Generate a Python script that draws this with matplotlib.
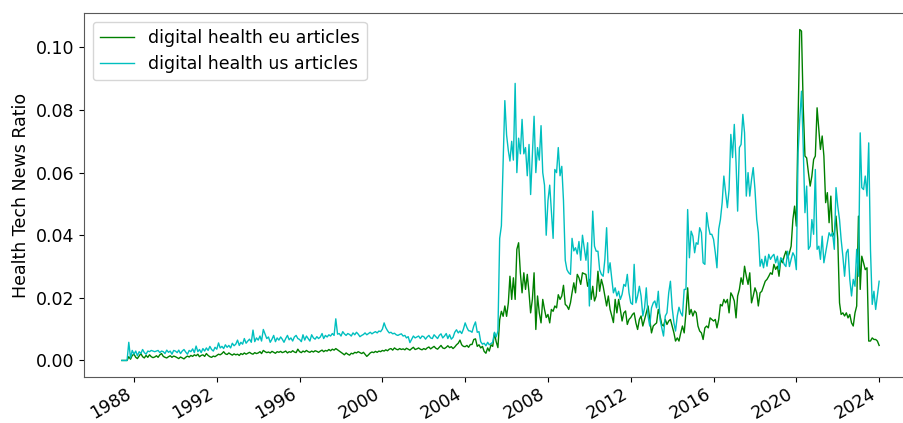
import pandas as pd
import matplotlib
matplotlib.use("Agg")
import matplotlib.pyplot as plt
import matplotlib.dates as mdates

# monthly share of health tech news, first month is June 1987
start_month = "1987-06-01"

eu_articles = [
    0.0, 0.0, 0.0, 0.0, 0.0012, 0.0004, 0.0016,
    0.0020, 0.0010, 0.0006, 0.0014, 0.0022, 0.0012, 0.0008, 0.0016, 0.0010, 0.0018, 0.0012, 0.0009,
    0.0011, 0.0015, 0.0010, 0.0018, 0.0022, 0.0013, 0.0010, 0.0008, 0.0012, 0.0015, 0.0010, 0.0014,
    0.0012, 0.0009, 0.0006, 0.0011, 0.0008, 0.0005, 0.0010, 0.0014, 0.0011, 0.0016, 0.0013, 0.0018,
    0.0015, 0.0020, 0.0012, 0.0016, 0.0018, 0.0013, 0.0022, 0.0016, 0.0012, 0.0010, 0.0014, 0.0012,
    0.0016, 0.0020, 0.0018, 0.0022, 0.0028, 0.0021, 0.0019, 0.0024, 0.0020, 0.0017, 0.0021, 0.0018,
    0.0020, 0.0016, 0.0022, 0.0019, 0.0024, 0.0020, 0.0023, 0.0026, 0.0022, 0.0020, 0.0025, 0.0022,
    0.0024, 0.0028, 0.0022, 0.0032, 0.0028, 0.0025, 0.0027, 0.0024, 0.0029, 0.0026, 0.0023, 0.0028,
    0.0026, 0.0029, 0.0025, 0.0027, 0.0030, 0.0024, 0.0028, 0.0026, 0.0031, 0.0027, 0.0025, 0.0036,
    0.0028, 0.0025, 0.0030, 0.0027, 0.0032, 0.0028, 0.0026, 0.0030, 0.0027, 0.0031, 0.0029, 0.0026,
    0.0030, 0.0033, 0.0028, 0.0032, 0.0030, 0.0035, 0.0031, 0.0036, 0.0033, 0.0038, 0.0034, 0.0030,
    0.0026, 0.0022, 0.0018, 0.0024, 0.0020, 0.0017, 0.0023, 0.0021, 0.0026, 0.0024, 0.0028, 0.0025,
    0.0022, 0.0026, 0.0020, 0.0013, 0.0018, 0.0024, 0.0027, 0.0025, 0.0029, 0.0026, 0.0030, 0.0028,
    0.0032, 0.0030, 0.0034, 0.0031, 0.0036, 0.0038, 0.0033, 0.0040, 0.0036, 0.0034, 0.0038, 0.0035,
    0.0037, 0.0034, 0.0039, 0.0036, 0.0033, 0.0038, 0.0042, 0.0035, 0.0037, 0.0040, 0.0036, 0.0034,
    0.0038, 0.0035, 0.0040, 0.0043, 0.0037, 0.0041, 0.0045, 0.0039, 0.0036, 0.0042, 0.0048, 0.0040,
    0.0038, 0.0042, 0.0047, 0.0041, 0.0044, 0.0038, 0.0043, 0.0050, 0.0055, 0.0065, 0.0050, 0.0045,
    0.0044, 0.0048, 0.0042, 0.0051, 0.0051, 0.0067, 0.0069, 0.0045, 0.0050, 0.0040, 0.0045, 0.0029,
    0.0023, 0.0040, 0.0030, 0.0050, 0.0045, 0.0088, 0.0060, 0.0041, 0.0130, 0.0157, 0.0141, 0.0174,
    0.0141, 0.0184, 0.0269, 0.0195, 0.0264, 0.0195, 0.0355, 0.0376, 0.0280, 0.0216, 0.0280, 0.0227,
    0.0275, 0.0216, 0.0152, 0.0195, 0.0280, 0.0099, 0.0206, 0.0152, 0.0120, 0.0195, 0.0163, 0.0137,
    0.0147, 0.0120, 0.0163, 0.0157, 0.0174, 0.0168, 0.0210, 0.0195, 0.0206, 0.0240, 0.0179, 0.0174,
    0.0163, 0.0184, 0.0216, 0.0248, 0.0216, 0.0275, 0.0264, 0.0243, 0.0280, 0.0277, 0.0275, 0.0237,
    0.0259, 0.0195, 0.0237, 0.0190, 0.0206, 0.0285, 0.0221, 0.0259, 0.0237, 0.0206, 0.0174, 0.0206,
    0.0163, 0.0142, 0.0121, 0.0195, 0.0152, 0.0195, 0.0163, 0.0126, 0.0152, 0.0158, 0.0115, 0.0131,
    0.0137, 0.0147, 0.0152, 0.0120, 0.0099, 0.0131, 0.0142, 0.0110, 0.0131, 0.0152, 0.0174, 0.0131,
    0.0088, 0.0110, 0.0115, 0.0120, 0.0163, 0.0142, 0.0115, 0.0110, 0.0131, 0.0115, 0.0126, 0.0131,
    0.0110, 0.0088, 0.0062, 0.0072, 0.0062, 0.0088, 0.0110, 0.0088, 0.0152, 0.0232, 0.0147, 0.0163,
    0.0142, 0.0158, 0.0152, 0.0110, 0.0094, 0.0088, 0.0067, 0.0104, 0.0110, 0.0104, 0.0136, 0.0131,
    0.0126, 0.0131, 0.0104, 0.0131, 0.0179, 0.0174, 0.0195, 0.0184, 0.0195, 0.0152, 0.0216, 0.0206,
    0.0190, 0.0136, 0.0206, 0.0227, 0.0264, 0.0243, 0.0301, 0.0269, 0.0243, 0.0280, 0.0184, 0.0206,
    0.0232, 0.0216, 0.0174, 0.0216, 0.0221, 0.0237, 0.0253, 0.0259, 0.0269, 0.0280, 0.0275, 0.0307,
    0.0291, 0.0301, 0.0269, 0.0323, 0.0312, 0.0333, 0.0349, 0.0328, 0.0344, 0.0365, 0.0450, 0.0493,
    0.0429, 0.0770, 0.1057, 0.1052, 0.0813, 0.0653, 0.0647, 0.0600, 0.0557, 0.0589, 0.0642, 0.0653,
    0.0807, 0.0738, 0.0674, 0.0717, 0.0653, 0.0504, 0.0536, 0.0440, 0.0525, 0.0397, 0.0408, 0.0461,
    0.0387, 0.0184, 0.0147, 0.0152, 0.0142, 0.0152, 0.0136, 0.0147, 0.0120, 0.0110, 0.0152, 0.0174,
    0.0461, 0.0227, 0.0333, 0.0312, 0.0290, 0.0296, 0.0062, 0.0062, 0.0072, 0.0067, 0.0067, 0.0062,
    0.0048,
]

us_articles = [
    0.0, 0.0, 0.0, 0.0, 0.0058, 0.0008, 0.0032,
    0.0020, 0.0030, 0.0015, 0.0028, 0.0022, 0.0035, 0.0025, 0.0020, 0.0030, 0.0028, 0.0032, 0.0030,
    0.0028, 0.0030, 0.0032, 0.0025, 0.0030, 0.0028, 0.0022, 0.0033, 0.0026, 0.0030, 0.0020, 0.0032,
    0.0030, 0.0025, 0.0033, 0.0022, 0.0030, 0.0035, 0.0027, 0.0020, 0.0032, 0.0028, 0.0037, 0.0025,
    0.0046, 0.0028, 0.0035, 0.0025, 0.0038, 0.0030, 0.0040, 0.0032, 0.0045, 0.0035, 0.0030, 0.0042,
    0.0036, 0.0056, 0.0040, 0.0045, 0.0038, 0.0050, 0.0042, 0.0048, 0.0040, 0.0055, 0.0047, 0.0052,
    0.0065, 0.0048, 0.0058, 0.0052, 0.0070, 0.0055, 0.0062, 0.0068, 0.0058, 0.0097, 0.0060, 0.0072,
    0.0065, 0.0078, 0.0062, 0.0099, 0.0085, 0.0070, 0.0075, 0.0058, 0.0068, 0.0080, 0.0060, 0.0072,
    0.0065, 0.0075, 0.0068, 0.0058, 0.0070, 0.0080, 0.0066, 0.0072, 0.0062, 0.0075, 0.0080, 0.0070,
    0.0067, 0.0060, 0.0082, 0.0065, 0.0078, 0.0070, 0.0062, 0.0082, 0.0072, 0.0068, 0.0076, 0.0070,
    0.0075, 0.0086, 0.0070, 0.0080, 0.0075, 0.0082, 0.0078, 0.0086, 0.0080, 0.0133, 0.0084, 0.0086,
    0.0078, 0.0092, 0.0085, 0.0080, 0.0086, 0.0083, 0.0078, 0.0088, 0.0082, 0.0090, 0.0084, 0.0076,
    0.0080, 0.0083, 0.0088, 0.0082, 0.0086, 0.0090, 0.0085, 0.0089, 0.0092, 0.0088, 0.0094, 0.0092,
    0.0100, 0.0120, 0.0105, 0.0095, 0.0088, 0.0090, 0.0085, 0.0087, 0.0082, 0.0080, 0.0083, 0.0085,
    0.0078, 0.0080, 0.0072, 0.0076, 0.0057, 0.0068, 0.0078, 0.0072, 0.0075, 0.0078, 0.0070, 0.0078,
    0.0076, 0.0068, 0.0075, 0.0080, 0.0072, 0.0070, 0.0082, 0.0076, 0.0070, 0.0080, 0.0085, 0.0072,
    0.0078, 0.0086, 0.0070, 0.0082, 0.0068, 0.0074, 0.0090, 0.0098, 0.0088, 0.0094, 0.0086, 0.0100,
    0.0120, 0.0105, 0.0095, 0.0094, 0.0090, 0.0110, 0.0123, 0.0090, 0.0092, 0.0060, 0.0052, 0.0055,
    0.0047, 0.0058, 0.0050, 0.0054, 0.0058, 0.0090, 0.0075, 0.0094, 0.0390, 0.0430, 0.0630, 0.0830,
    0.0720, 0.0670, 0.0637, 0.0700, 0.0640, 0.0885, 0.0600, 0.0710, 0.0660, 0.0770, 0.0660, 0.0680,
    0.0590, 0.0690, 0.0530, 0.0660, 0.0780, 0.0600, 0.0680, 0.0640, 0.0750, 0.0600, 0.0560, 0.0400,
    0.0510, 0.0560, 0.0480, 0.0390, 0.0610, 0.0600, 0.0680, 0.0590, 0.0620, 0.0510, 0.0320, 0.0290,
    0.0280, 0.0275, 0.0390, 0.0350, 0.0360, 0.0340, 0.0380, 0.0320, 0.0400, 0.0360, 0.0320, 0.0376,
    0.0174, 0.0320, 0.0477, 0.0365, 0.0349, 0.0349, 0.0290, 0.0275, 0.0269, 0.0323, 0.0424, 0.0280,
    0.0312, 0.0259, 0.0216, 0.0232, 0.0206, 0.0221, 0.0195, 0.0211, 0.0243, 0.0237, 0.0275, 0.0216,
    0.0184, 0.0179, 0.0307, 0.0184, 0.0206, 0.0237, 0.0206, 0.0142, 0.0168, 0.0232, 0.0142, 0.0110,
    0.0168, 0.0184, 0.0190, 0.0168, 0.0221, 0.0131, 0.0104, 0.0078, 0.0142, 0.0152, 0.0216, 0.0253,
    0.0168, 0.0120, 0.0094, 0.0142, 0.0170, 0.0152, 0.0142, 0.0227, 0.0227, 0.0482, 0.0328, 0.0413,
    0.0397, 0.0344, 0.0376, 0.0371, 0.0424, 0.0408, 0.0312, 0.0307, 0.0472, 0.0429, 0.0403, 0.0403,
    0.0387, 0.0344, 0.0296, 0.0419, 0.0450, 0.0504, 0.0589, 0.0536, 0.0488, 0.0546, 0.0722, 0.0648,
    0.0754, 0.0632, 0.0477, 0.0680, 0.0690, 0.0786, 0.0727, 0.0525, 0.0600, 0.0525, 0.0578, 0.0616,
    0.0546, 0.0450, 0.0408, 0.0301, 0.0323, 0.0296, 0.0333, 0.0301, 0.0339, 0.0323, 0.0333, 0.0339,
    0.0312, 0.0333, 0.0291, 0.0328, 0.0323, 0.0307, 0.0300, 0.0349, 0.0300, 0.0323, 0.0344, 0.0333,
    0.0290, 0.0664, 0.0770, 0.0860, 0.0685, 0.0472, 0.0557, 0.0355, 0.0365, 0.0450, 0.0403, 0.0610,
    0.0355, 0.0365, 0.0323, 0.0397, 0.0312, 0.0344, 0.0376, 0.0408, 0.0397, 0.0408, 0.0355, 0.0552,
    0.0493, 0.0450, 0.0387, 0.0333, 0.0269, 0.0344, 0.0355, 0.0259, 0.0206, 0.0259, 0.0237, 0.0355,
    0.0269, 0.0727, 0.0552, 0.0546, 0.0589, 0.0525, 0.0695, 0.0355, 0.0179, 0.0221, 0.0163, 0.0206,
    0.0253,
]

series_labels = ["digital health eu articles", "digital health us articles"]

dates = pd.date_range(start_month, periods=len(eu_articles), freq="MS")

fig = plt.figure(figsize=(9.04, 4.23), dpi=100)
# axes runs a little past the right edge of the canvas
ax = fig.add_axes([84 / 904, 46 / 423, 833 / 904, 364 / 423])

ax.plot(dates, eu_articles, color="g", linewidth=1, label=series_labels[0])
ax.plot(dates, us_articles, color="c", linewidth=1, label=series_labels[1])

ax.xaxis.set_major_locator(mdates.YearLocator(4))
ax.xaxis.set_major_formatter(mdates.DateFormatter("%Y"))
for lbl in ax.get_xticklabels():
    lbl.set_rotation(30)
    lbl.set_ha("right")

ax.tick_params(labelsize=12.5)
ax.tick_params(axis="x", pad=2)
ax.set_ylabel("Health Tech News Ratio", fontsize=12.5)
for spine in ax.spines.values():
    spine.set_color("0.35")
ax.legend(loc="upper left", fontsize=12.5)

fig.savefig("out.png", dpi=100)
